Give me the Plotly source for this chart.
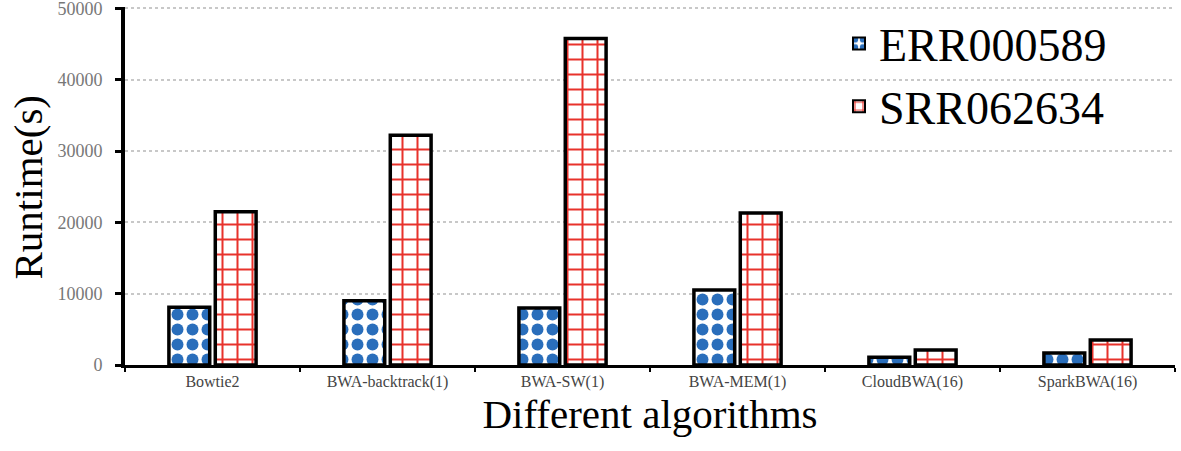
import plotly.graph_objects as go

algorithms = ["Bowtie2", "BWA-backtrack(1)", "BWA-SW(1)", "BWA-MEM(1)", "CloudBWA(16)", "SparkBWA(16)"]
err000589 = [8100, 9000, 8000, 10500, 1100, 1700]
srr062634 = [21500, 32200, 45800, 21300, 2100, 3500]
y_ticks = [0, 10000, 20000, 30000, 40000, 50000]
y_labels = ["0", "10000", "20000", "30000", "40000", "50000"]

serif = "Liberation Serif, Times New Roman, serif"

fig = go.Figure()
fig.add_trace(go.Bar(
    x=algorithms, y=err000589, name="ERR000589",
    marker=dict(color="white", line=dict(color="black", width=3.5),
                pattern=dict(shape=".", fgcolor="#2a6ebb", bgcolor="white", fgopacity=1,
                             size=15, solidity=0.5, fillmode="replace")),
))
fig.add_trace(go.Bar(
    x=algorithms, y=srr062634, name="SRR062634",
    marker=dict(color="white", line=dict(color="black", width=3.5),
                pattern=dict(shape="+", fgcolor="#e8322b", bgcolor="white", fgopacity=1,
                             size=15, solidity=0.25, fillmode="replace")),
))

fig.update_layout(
    width=1181, height=451,
    margin=dict(l=125, r=6, t=7, b=86, autoexpand=False),
    paper_bgcolor="white", plot_bgcolor="white",
    font=dict(family=serif, color="black"),
    barmode="group", bargap=0.47, bargroupgap=0.12,
    showlegend=True,
    legend=dict(x=0.68, y=1.0, xanchor="left", yanchor="top",
                bgcolor="rgba(0,0,0,0)", font=dict(size=46, family=serif),
                itemsizing="constant", tracegroupgap=28),
    annotations=[dict(text="Runtime(s)", textangle=-90, showarrow=False,
                      xref="paper", yref="paper", x=-0.092, y=0.497,
                      xanchor="center", yanchor="middle", borderpad=0,
                      font=dict(size=41, family=serif, color="black"))],
)
fig.update_xaxes(
    automargin=False,
    title=dict(text="Different algorithms", font=dict(size=41, family=serif), standoff=4),
    tickfont=dict(size=16, family=serif, color="#444"),
    showline=True, linecolor="black", linewidth=3,
    ticks="outside", tickson="boundaries", ticklen=4, tickcolor="black", tickwidth=2,
    showgrid=False,
)
fig.update_yaxes(
    automargin=False,
    range=[0, 50200], tickvals=y_ticks, ticktext=y_labels,
    tickfont=dict(size=18, family=serif, color="#777"), ticklabelstandoff=9,
    ticklabeloverflow="allow",
    showline=True, linecolor="black", linewidth=4,
    ticks="outside", ticklen=6, tickcolor="black", tickwidth=3,
    showgrid=True, gridcolor="#c8c8c8", griddash="dot", gridwidth=1.5,
    zeroline=False,
)

fig.write_html("out.html", config={"displayModeBar": False},
               post_script="document.body.style.margin='0';")
